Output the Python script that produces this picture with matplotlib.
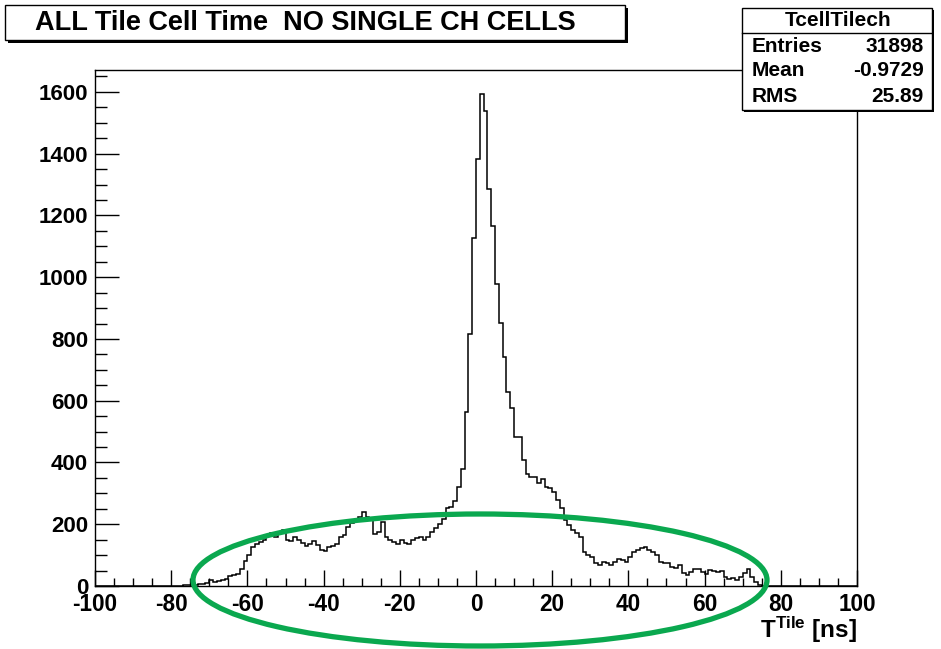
import numpy as np
import matplotlib
matplotlib.use("Agg")
import matplotlib.pyplot as plt
from matplotlib.patches import Rectangle, Ellipse
from matplotlib.ticker import MultipleLocator

plt.rcParams['font.family'] = ['Liberation Sans', 'DejaVu Sans']
plt.rcParams['axes.unicode_minus'] = False
plt.rcParams['mathtext.fontset'] = 'custom'
plt.rcParams['mathtext.rm'] = 'Liberation Sans:bold'
plt.rcParams['mathtext.bf'] = 'Liberation Sans:bold'
plt.rcParams['mathtext.it'] = 'Liberation Sans:bold'

# ---- data -------------------------------------------------------------
x_min, x_max, n_bins = -100, 100, 200
first_filled_bin = -78          # lower edge of first listed bin
counts_left = [0, 3, 3, 4, 2, 5, 7, 10, 20, 14, 17, 20, 23, 33, 37, 40,
               55, 80, 100, 125, 135, 142, 150, 165, 172, 160, 175, 182,
               150, 145, 160, 148, 140, 128, 135, 145, 132, 118, 113, 125,
               130, 135, 160, 165, 190, 205, 210, 225, 240, 222]          # -78 .. -29
counts_mid = [214, 170, 175, 208, 160, 150, 144, 135, 149, 140, 135, 149,
              155, 160, 150, 160, 176, 187, 201, 216, 252, 255, 275, 320,
              378, 565, 816, 1126]                                         # -28 .. -1
counts_peak = [1383, 1593, 1539, 1287, 1167, 978, 853, 742, 629, 575, 484,
               484, 408, 362, 354, 354, 332, 346, 322, 316, 305, 278, 251,
               214, 197, 181, 171, 160]                                    # 0 .. 27
counts_right = [111, 100, 95, 73, 68, 78, 73, 68, 78, 89, 84, 79, 93, 111,
                117, 122, 127, 117, 111, 100, 79, 73, 73, 61, 57, 68, 43,
                36, 46, 54, 54, 46, 38, 52, 50, 46, 50, 30, 24, 27, 19, 30,
                41, 54, 30, 14, 3]                                         # 28 .. 74

title_text = "ALL Tile Cell Time  NO SINGLE CH CELLS"
stats_name = "TcellTilech"
stats_labels = ["Entries", "Mean", "RMS"]
stats_values = ["31898", "-0.9729", "25.89"]
x_ticks = [-100, -80, -60, -40, -20, 0, 20, 40, 60, 80, 100]
y_ticks = [0, 200, 400, 600, 800, 1000, 1200, 1400, 1600]

# ---- build histogram ---------------------------------------------------
edges = np.arange(x_min, x_max + 1, (x_max - x_min) / n_bins)
values = np.zeros(n_bins)
listed = counts_left + counts_mid + counts_peak + counts_right
start = int(first_filled_bin - x_min)
values[start:start + len(listed)] = listed

W, H = 941, 649
fig = plt.figure(figsize=(W / 100, H / 100), dpi=100)
fig.patch.set_facecolor('white')

ax_l, ax_r, ax_t, ax_b = 95, 857, 70, 586
ax = fig.add_axes([ax_l / W, 1 - ax_b / H, (ax_r - ax_l) / W, (ax_b - ax_t) / H])
ax.stairs(values, edges, color='black', linewidth=1.1)
ax.set_xlim(x_min, x_max)
ax.set_ylim(0, 1671)

ax.set_xticks(x_ticks)
ax.set_yticks(y_ticks)
ax.xaxis.set_minor_locator(MultipleLocator(5))
ax.yaxis.set_minor_locator(MultipleLocator(50))
ax.tick_params(axis='both', which='both', direction='in', top=False, right=False,
               width=1.0, color='black')
ax.tick_params(axis='x', which='major', length=11.5, pad=5)
ax.tick_params(axis='x', which='minor', length=5.5)
ax.tick_params(axis='y', which='major', length=17, pad=5)
ax.tick_params(axis='y', which='minor', length=8.5)
for lab in ax.get_xticklabels():
    lab.set_fontsize(16.3)
    lab.set_fontweight('bold')
for lab in ax.get_yticklabels():
    lab.set_fontsize(16)
    lab.set_fontweight('bold')
for sp in ax.spines.values():
    sp.set_linewidth(1.0)
    sp.set_color('black')

fig.text(857 / W, 1 - 638 / H, r"$\mathbf{T^{Tile}}$ [ns]", ha='right', va='baseline',
         fontsize=17.5, fontweight='bold')


def px_rect(x0, y0, x1, y1, **kw):
    return Rectangle((x0 / W, 1 - y1 / H), (x1 - x0) / W, (y1 - y0) / H,
                     transform=fig.transFigure, **kw)


# title box with shadow
fig.add_artist(px_rect(8, 8, 628, 43, facecolor='black', edgecolor='none', zorder=5))
fig.add_artist(px_rect(5, 5, 625, 40, facecolor='white', edgecolor='black',
                       linewidth=1.0, zorder=6))
fig.text(305 / W, 1 - 22.5 / H, title_text, ha='center', va='center',
         fontsize=19.5, fontweight='bold', zorder=7)

# stats box with shadow
fig.add_artist(px_rect(744, 10, 934, 112, facecolor='black', edgecolor='none', zorder=5))
fig.add_artist(px_rect(742, 8, 932, 110, facecolor='white', edgecolor='black',
                       linewidth=1.0, zorder=6))
fig.add_artist(plt.Line2D([742 / W, 932 / W], [1 - 33 / H, 1 - 33 / H],
                          transform=fig.transFigure, color='black', linewidth=1.0, zorder=7))
fig.text(838 / W, 1 - 20.5 / H, stats_name, ha='center', va='center',
         fontsize=15, fontweight='bold', zorder=7)
for i, (lab, val) in enumerate(zip(stats_labels, stats_values)):
    yy = 1 - (46 + 25 * i) / H
    fig.text(752 / W, yy, lab, ha='left', va='center', fontsize=15,
             fontweight='bold', zorder=7)
    fig.text(924 / W, yy, val, ha='right', va='center', fontsize=15,
             fontweight='bold', zorder=7)

# green highlight ellipse
fig.add_artist(Ellipse((480 / W, 1 - 580 / H), 574 / W, 132 / H,
                       transform=fig.transFigure, fill=False,
                       edgecolor='#0aa84f', linewidth=3.8, zorder=8))

fig.savefig("out.png", dpi=100, facecolor='white')
